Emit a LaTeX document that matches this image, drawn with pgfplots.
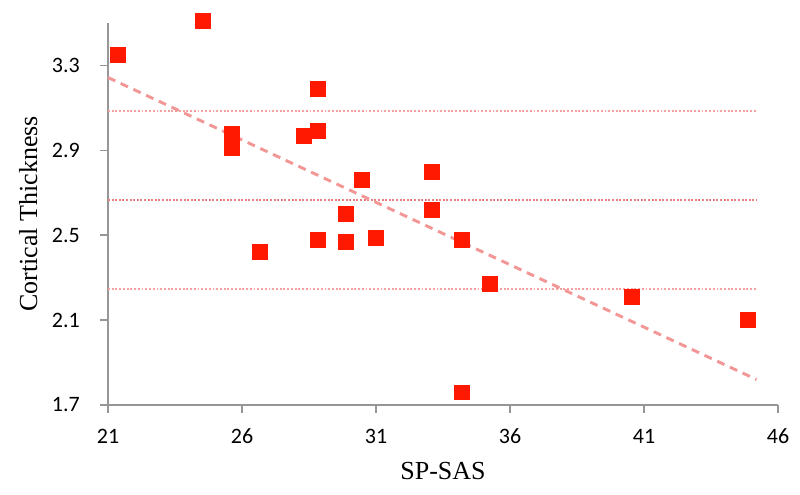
\documentclass[border=0pt]{standalone}
\usepackage{fontspec}
\setmainfont{Liberation Serif}
\newfontfamily\carlito{Carlito}
\usepackage{pgfplots}
\pgfplotsset{compat=1.18}

\definecolor{ptred}{RGB}{255,25,0}
\definecolor{trend}{RGB}{242,150,150}
\definecolor{band}{RGB}{246,160,160}
\definecolor{meanline}{RGB}{236,125,125}
\definecolor{axgray}{RGB}{150,150,150}

\begin{document}
\begin{tikzpicture}
\begin{axis}[scale only axis,width=502.5pt,height=286.5pt,
  xmin=21,xmax=46,ymin=1.7,ymax=3.5,clip=false,
  axis x line=bottom,axis y line=left,axis line style={axgray,line width=1.1pt,-},
  xtick={21,26,31,36,41,46},ytick={1.7,2.1,2.5,2.9,3.3},
  tick align=outside,major tick length=6pt,
  tick style={axgray,line width=1.1pt},
  /pgf/number format/assume math mode=true,
  yticklabel style={/pgf/number format/fixed,/pgf/number format/fixed zerofill,
    /pgf/number format/precision=1},
  ticklabel style={font=\carlito\fontsize{16.5}{17}\selectfont},
  xticklabel style={anchor=base,yshift=-23pt},
  yticklabel style={anchor=east,inner sep=0pt,xshift=-15pt},
  xlabel={SP-SAS},ylabel={Cortical Thickness},
  label style={font=\fontsize{19.5}{20}\selectfont},
  xlabel style={at={(axis description cs:0.5,-0.172)},anchor=center},
  ylabel style={at={(axis description cs:-0.119,0.5)},anchor=center,rotate=0}]
% mean and +/- SD reference lines
\addplot[band,line width=1.5pt,dash pattern=on 1.4pt off 1.4pt] coordinates {(21,3.087) (45.2,3.087)};
\addplot[meanline,line width=1.9pt,dash pattern=on 1.5pt off 1.2pt] coordinates {(21,2.665) (45.2,2.665)};
\addplot[band,line width=1.5pt,dash pattern=on 1.4pt off 1.4pt] coordinates {(21,2.248) (45.2,2.248)};
% linear trend
\addplot[trend,line width=2.2pt,dash pattern=on 6pt off 4.5pt] coordinates {(21,3.243) (45.2,1.82)};
% data
\addplot[only marks,mark=square*,mark size=5.6pt,color=ptred] coordinates {
(21.37,3.35) (24.54,3.51) (25.63,2.98) (25.63,2.91) (26.67,2.42)
(28.31,2.97) (28.84,2.99) (28.84,3.19) (28.84,2.48) (29.88,2.47)
(29.88,2.60) (30.48,2.76) (31.00,2.49) (33.09,2.80) (33.09,2.62)
(34.20,2.48) (34.20,1.76) (35.25,2.27) (40.55,2.21) (44.88,2.10)};
\end{axis}
\path (current axis.south west) ++(-81pt,-67.5pt) coordinate (bl);
\path (current axis.north east) ++(16.5pt,17.25pt) coordinate (tr);
\path (bl) rectangle (tr);
\end{tikzpicture}
\end{document}
